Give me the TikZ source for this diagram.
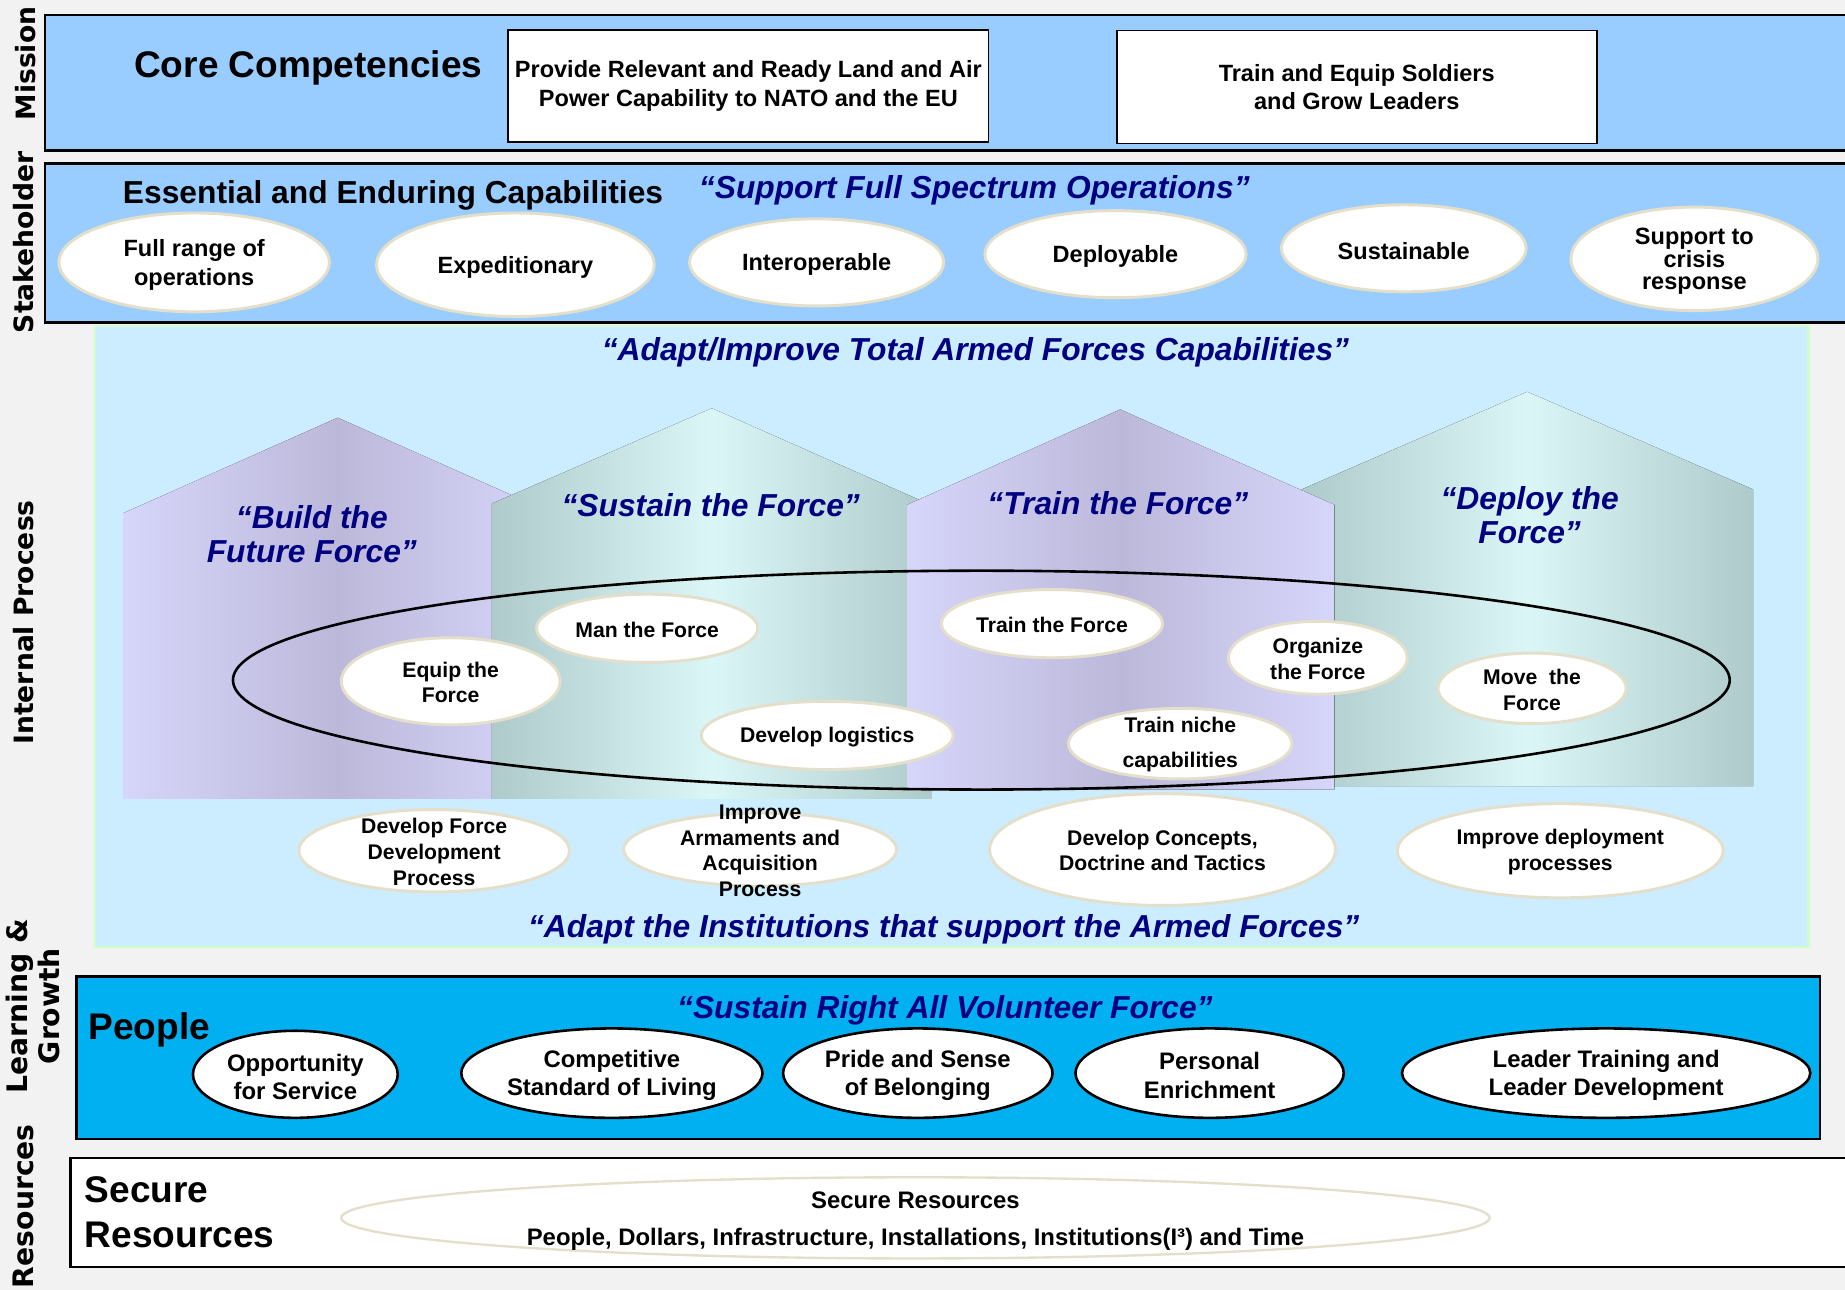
\documentclass[tikz,border=0pt]{standalone}
\usepackage{fontspec}
\setmainfont{Liberation Sans}
\newfontfamily\sidefont{DejaVu Sans}
\usetikzlibrary{shapes.geometric}

\definecolor{pagegray}{HTML}{F2F2F2}
\definecolor{bandblue}{HTML}{99CCFF}
\definecolor{processblue}{HTML}{CCECFF}
\definecolor{processrim}{HTML}{CCFFCC}
\definecolor{peopleblue}{HTML}{00B0F0}
\definecolor{quotenavy}{HTML}{000080}
\definecolor{ovalrim}{HTML}{E4DFCA}
\definecolor{lavlight}{HTML}{D6D6FA}
\definecolor{lavdark}{HTML}{BCB8DA}
\definecolor{tealdark}{HTML}{AFCACA}
\definecolor{teallight}{HTML}{DBF6F6}

\tikzset{
    band/.style={draw=black, line width=2pt},
    capbox/.style={draw=black, line width=1.5pt, fill=white, align=center, inner sep=0pt,
        font=\bfseries\fontsize{20}{25}\selectfont},
    dims/.style 2 args={minimum width=#1, minimum height=#2},
    oval/.style={ellipse, draw=ovalrim, line width=2.5pt, fill=white, inner sep=0pt},
    blackoval/.style={ellipse, draw=black, line width=2.2pt, fill=white, inner sep=0pt},
    txt/.style={align=center, yshift=-2pt, font=\bfseries\fontsize{20}{25}\selectfont},
    smalltxt/.style={align=center, yshift=-1pt, font=\bfseries\fontsize{18}{22}\selectfont},
    quote/.style={text=quotenavy, align=center, font=\bfseries\itshape\fontsize{27}{29}\selectfont},
    heading/.style={align=left, inner sep=0pt, font=\bfseries\fontsize{31.5}{38}\selectfont},
    sidelabel/.style={rotate=90, align=center, inner sep=0pt, font=\sidefont\bfseries\fontsize{22.6}{23}\selectfont},
    purplehouse/.style={left color=lavlight, right color=lavlight, middle color=lavdark},
    tealhouse/.style={left color=tealdark, right color=tealdark, middle color=teallight},
}

\begin{document}
\begin{tikzpicture}[x=1pt, y=-1pt]
    \fill[pagegray] (0,0) rectangle (1568,1096);
    \useasboundingbox (0,0) rectangle (1568,1096);

    % bands
    \draw[processrim, fill=processblue, line width=2pt] (81,277) rectangle (1537,805);
    \draw[band, fill=bandblue] (38,13) rectangle (1590,128);
    \draw[band, fill=bandblue] (38,139) rectangle (1590,274);
    \draw[band, fill=peopleblue] (65,830) rectangle (1547,968);
    \draw[band, fill=white] (60,984) rectangle (1590,1077);

    % side labels
    \node[sidelabel] (mission) at (22,54) {Mission};
    \node[sidelabel] (stakeholder) at (20,206) {Stakeholder};
    \node[sidelabel] (internal) at (20,529) {Internal Process};
    \node[sidelabel, font=\sidefont\bfseries\fontsize{24}{27}\selectfont] (learning) at (28,855) {Learning \&\\Growth};
    \node[sidelabel, font=\sidefont\bfseries\fontsize{24}{28}\selectfont] (resources) at (20,1025) {Resources};

    % mission
    \node[heading] (corecomp) at (262,58) {Core Competencies};
    \node[capbox, dims={408}{95}] (relevant) at (636,73)
        {Provide Relevant and Ready Land and Air\\Power Capability to NATO and the EU};
    \node[capbox, dims={408}{96}, font=\bfseries\fontsize{20}{24}\selectfont] (soldiers) at (1153,74)
        {Train and Equip Soldiers\\and Grow Leaders};

    % stakeholder
    \node[heading, font=\bfseries\fontsize{27}{30}\selectfont] (essential) at (334,166)
        {Essential and Enduring Capabilities};
    \node[quote] (spectrum) at (828,162) {“Support Full Spectrum Operations”};

    \node[oval, dims={230}{84}] (fullrange) at (165,223) {};
    \node[txt] (fullrange-t) at (fullrange) {Full range of\\operations};
    \node[oval, dims={236}{88}] (expedition) at (438,225) {};
    \node[txt] (expedition-t) at (expedition) {Expeditionary};
    \node[oval, dims={216}{74}] (interop) at (694,223) {};
    \node[txt] (interop-t) at (interop) {Interoperable};
    \node[oval, dims={222}{74}] (deploy) at (948,216) {};
    \node[txt] (deploy-t) at (deploy) {Deployable};
    \node[oval, dims={208}{74}] (sustain) at (1193,211) {};
    \node[txt] (sustain-t) at (sustain) {Sustainable};
    \node[oval, dims={210}{88}] (crisis) at (1440,220) {};
    \node[txt, font=\bfseries\fontsize{20}{19.5}\selectfont] (crisis-t) at (crisis) {Support to\\crisis\\response};

    % internal process
    \node[quote] (adapt) at (829,299) {“Adapt/Improve Total Armed Forces Capabilities”};

    \fill[purplehouse] (105,679) -- (105,436) -- (287,355) -- (469,436) -- (469,679) -- cycle;
    \fill[tealhouse] (418,679) -- (418,428) -- (605,347) -- (784,426) -- (784,671) -- (792,671) -- (792,679) -- cycle;
    \fill[tealhouse] (1106,668) -- (1106,416) -- (1298,333) -- (1490,416) -- (1490,668) -- cycle;
    \fill[purplehouse] (771,671) -- (771,429) -- (952,348) -- (1134,429) -- (1134,671) -- cycle;

    \node[quote] (buildtitle) at (265,454) {“Build the\\Future Force”};
    \node[quote] (sustaintitle) at (604,429) {“Sustain the Force”};
    \node[quote] (traintitle) at (950,428) {“Train the Force”};
    \node[quote] (deploytitle) at (1300,438) {“Deploy the\\Force”};

    \node[ellipse, draw=black, line width=2.2pt, inner sep=0pt, dims={1272}{186}] (forceloop) at (834,578) {};

    \node[oval, dims={186}{74}] (equip) at (383,579) {};
    \node[smalltxt] (equip-t) at (equip) {Equip the\\Force};
    \node[oval, dims={188}{58}] (man) at (550,534) {};
    \node[smalltxt] (man-t) at (man) {Man the Force};
    \node[oval, dims={214}{58}] (logistics) at (703,625) {};
    \node[smalltxt] (logistics-t) at (logistics) {Develop logistics};
    \node[oval, dims={188}{58}] (train) at (894,530) {};
    \node[smalltxt] (train-t) at (train) {Train the Force};
    \node[oval, dims={152}{62}] (organize) at (1120,559) {};
    \node[smalltxt] (organize-t) at (organize) {Organize\\the Force};
    \node[oval, dims={190}{60}] (niche) at (1003,632) {};
    \node[smalltxt, font=\bfseries\fontsize{18}{30}\selectfont] (niche-t) at (niche) {Train niche\\capabilities};
    \node[oval, dims={160}{60}] (move) at (1302,585) {};
    \node[smalltxt] (move-t) at (move) {Move\ \ the\\Force};

    \node[oval, dims={230}{70}] (fdprocess) at (369,723) {};
    \node[smalltxt] (fdprocess-t) at (fdprocess) {Develop Force\\Development\\Process};
    \node[oval, dims={232}{62}] (armaments) at (646,722) {};
    \node[smalltxt, font=\bfseries\fontsize{18}{21.7}\selectfont] (armaments-t) at (armaments)
        {Improve\\Armaments and\\Acquisition\\Process};
    \node[oval, dims={294}{95}] (doctrine) at (988,722) {};
    \node[smalltxt, font=\bfseries\fontsize{18}{21}\selectfont] (doctrine-t) at (doctrine)
        {Develop Concepts,\\Doctrine and Tactics};
    \node[oval, dims={277}{80}] (deployproc) at (1326,723) {};
    \node[smalltxt] (deployproc-t) at (deployproc) {Improve deployment\\processes};

    \node[quote] (institutions) at (802,790) {“Adapt the Institutions that support the Armed Forces”};

    % learning and growth
    \node[heading, anchor=west] (people) at (75,875) {People};
    \node[quote] (volunteer) at (803,859) {“Sustain Right All Volunteer Force”};

    \node[blackoval, dims={174}{74}] (opportunity) at (251,913) {};
    \node[txt, font=\bfseries\fontsize{20.3}{24}\selectfont] (opportunity-t) at (opportunity) {Opportunity\\for Service};
    \node[blackoval, dims={256}{76}] (living) at (520,912) {};
    \node[txt, font=\bfseries\fontsize{20.3}{24}\selectfont] (living-t) at (living) {Competitive\\Standard of Living};
    \node[blackoval, dims={229}{76}] (belonging) at (780,912) {};
    \node[txt, font=\bfseries\fontsize{20.3}{24}\selectfont] (belonging-t) at (belonging) {Pride and Sense\\of Belonging};
    \node[blackoval, dims={228}{76}] (enrichment) at (1028,912) {};
    \node[txt, font=\bfseries\fontsize{20.3}{24}\selectfont] (enrichment-t) at (enrichment) {Personal\\Enrichment};
    \node[blackoval, dims={347}{76}] (leader) at (1365,912) {};
    \node[txt, font=\bfseries\fontsize{20.3}{24}\selectfont] (leader-t) at (leader) {Leader Training and\\Leader Development};

    % resources
    \node[heading, anchor=west] (secure) at (72,1030) {Secure\\Resources};
    \node[ellipse, draw=ovalrim, line width=2pt, fill=white, inner sep=0pt, dims={976}{69}] (assets) at (778,1035) {};
    \node[txt, font=\bfseries\fontsize{20.3}{24}\selectfont, yshift=0pt] (assets-title) at (778,1018) {Secure Resources};
    \node[txt, font=\bfseries\fontsize{20.3}{24}\selectfont, yshift=0pt] (assets-list) at (778,1051)
        {People, Dollars, Infrastructure, Installations, Institutions(I³) and Time};
\end{tikzpicture}
\end{document}
